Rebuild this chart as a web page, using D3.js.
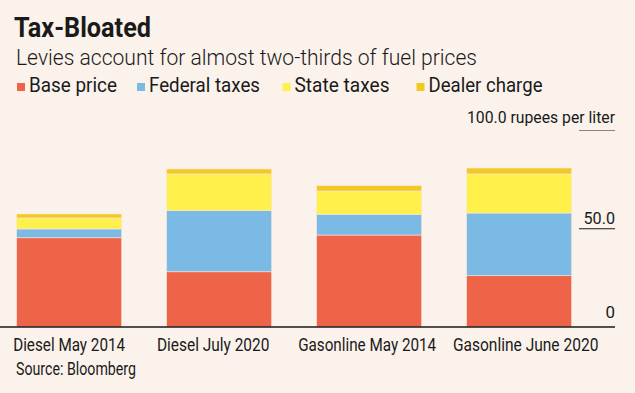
<!DOCTYPE html>
<html>
<head>
<meta charset="utf-8">
<script src="https://cdn.jsdelivr.net/npm/d3@7"></script>
<style>
  html, body { margin: 0; padding: 0; background: #fbf2ec; }
  svg { display: block; font-family: Roboto, "Noto Sans", sans-serif; }
</style>
</head>
<body>
<svg id="chart" width="635" height="393"></svg>
<script>
// Chart data (rupees per liter)
const categories = ["Diesel May 2014", "Diesel July 2020", "Gasonline May 2014", "Gasonline June 2020"];
const seriesNames = ["Base price", "Federal taxes", "State taxes", "Dealer charge"];
const basePrice = [45.4, 28.1, 46.8, 26.1];
const federalTaxes = [4.5, 31.1, 10.6, 31.9];
const stateTaxes = [5.6, 18.7, 11.8, 19.9];
const dealerCharge = [2.0, 2.5, 2.7, 3.0];
const tickValues = [0, 50, 100];
const tickLabels = ["0", "50.0", "100.0 rupees per liter"];

const colors = ["#ee6449", "#7cbae6", "#fff04b", "#f2c823"];
const ink = "#1a1a1a";

// the original uses a condensed face, so squeeze text to its width
function squeeze(sel, w) {
    sel.attr("textLength", w).attr("lengthAdjust", "spacingAndGlyphs");
}

const svg = d3.select("#chart");

// Build table for d3.stack
const keys = ["base", "federal", "state", "dealer"];
const table = categories.map((c, i) => ({
    category: c,
    base: basePrice[i],
    federal: federalTaxes[i],
    state: stateTaxes[i],
    dealer: dealerCharge[i]
}));
const stacked = d3.stack().keys(keys)(table);

// Scales
const x = d3.scaleBand()
    .domain(categories)
    .range([0, 588.3])
    .paddingInner(0.3)
    .paddingOuter(0.111);

const y = d3.scaleLinear()
    .domain([0, 100])
    .range([327, 130.5]);

const axisRight = 615;

// Header
svg.append("text")
    .attr("x", 14).attr("y", 37)
    .attr("font-size", 27).attr("font-weight", "bold")
    .attr("fill", ink)
    .text("Tax-Bloated")
    .call(squeeze, 137);

svg.append("text")
    .attr("x", 16).attr("y", 65)
    .attr("font-size", 22).attr("font-weight", 300)
    .attr("fill", ink)
    .text("Levies account for almost two-thirds of fuel prices")
    .call(squeeze, 461);

// Legend
const legendX = [17, 137, 282.5, 416.5];
const legendW = [88, 111, 95, 114];
const legend = svg.selectAll(".legend")
    .data(seriesNames)
    .enter().append("g")
    .attr("class", "legend")
    .attr("transform", (d, i) => `translate(${legendX[i]},0)`);

legend.append("rect")
    .attr("x", 0).attr("y", 83)
    .attr("width", 8).attr("height", 8)
    .attr("fill", (d, i) => colors[i]);

legend.append("text")
    .attr("x", 12).attr("y", 92)
    .attr("font-size", 20)
    .attr("fill", ink)
    .text(d => d)
    .each(function(d, i) { d3.select(this).call(squeeze, legendW[i]); });

// Bars
svg.append("g")
    .selectAll("g")
    .data(stacked)
    .enter().append("g")
    .attr("fill", (d, i) => colors[i])
    .selectAll("rect")
    .data(d => d)
    .enter().append("rect")
    .attr("x", d => x(d.data.category))
    .attr("width", x.bandwidth())
    .attr("y", d => y(d[1]))
    .attr("height", d => y(d[0]) - y(d[1]))
    .attr("stroke", "#fbe4da")
    .attr("stroke-width", 0.6);

// Y axis on the right: short rule under each label
const labelGap = [9, 4.5, 7.5];
const labelW = [9.5, 31.5, 148];
const ticks = svg.append("g");
ticks.selectAll(".tick-label")
    .data(tickValues)
    .enter().append("text")
    .attr("class", "tick-label")
    .attr("x", axisRight)
    .attr("y", (d, i) => y(d) - labelGap[i])
    .attr("text-anchor", "end")
    .attr("font-size", 17)
    .attr("fill", ink)
    .text((d, i) => tickLabels[i])
    .each(function(d, i) { d3.select(this).call(squeeze, labelW[i]); });

ticks.selectAll(".tick-line")
    .data(tickValues.filter(d => d > 0))
    .enter().append("line")
    .attr("x1", axisRight - 36).attr("x2", axisRight)
    .attr("y1", d => y(d)).attr("y2", d => y(d))
    .attr("stroke", d => d === 100 ? "#8a8682" : ink)
    .attr("stroke-width", 1.2);

// Baseline
svg.append("line")
    .attr("x1", 0).attr("x2", axisRight)
    .attr("y1", y(0)).attr("y2", y(0))
    .attr("stroke", ink)
    .attr("stroke-width", 1.3);

// Category labels (the original nudges a couple of them off-centre)
const catW = [112, 112.5, 138, 145.5];
const catShift = [0, -6, -2, 6.5];
svg.append("g")
    .selectAll("text")
    .data(categories)
    .enter().append("text")
    .attr("x", (d, i) => x(d) + x.bandwidth() / 2 + catShift[i])
    .attr("y", 351)
    .attr("text-anchor", "middle")
    .attr("font-size", 18)
    .attr("fill", ink)
    .text(d => d)
    .each(function(d, i) { d3.select(this).call(squeeze, catW[i]); });

// Source
svg.append("text")
    .attr("x", 16).attr("y", 375)
    .attr("font-size", 17.5)
    .attr("fill", ink)
    .text("Source: Bloomberg")
    .call(squeeze, 120);
</script>
</body>
</html>
